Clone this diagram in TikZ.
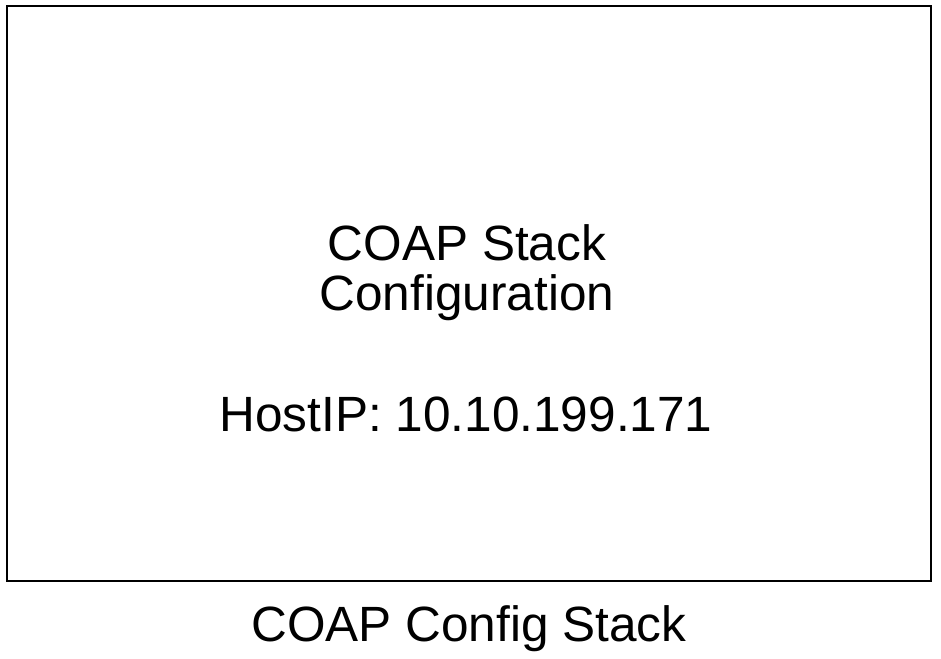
\documentclass[tikz,border=0pt]{standalone}
\usepackage{fontspec}
\setmainfont{Liberation Sans}
\usetikzlibrary{positioning}

\begin{document}
\begin{tikzpicture}[
    x=0.02cm, y=-0.02cm,
    block/.style={rectangle, draw, line width=1.1pt, minimum width=18.48cm, minimum height=11.5cm, inner sep=0pt},
    txt/.style={anchor=base, align=center, inner sep=0pt, font=\fontsize{28.2}{27.9}\selectfont}
]
\useasboundingbox (0,0) rectangle (941,659);

% stack block
\node[block] (stack) at (469,293.5) {};

% block contents
\node[txt] (title) at (467,310) {COAP Stack\\Configuration};
\node[txt] (host) at (466,431) {HostIP: 10.10.199.171};

% caption under the block
\node[txt] (caption) at (469,641) {COAP Config Stack};

\end{tikzpicture}
\end{document}
